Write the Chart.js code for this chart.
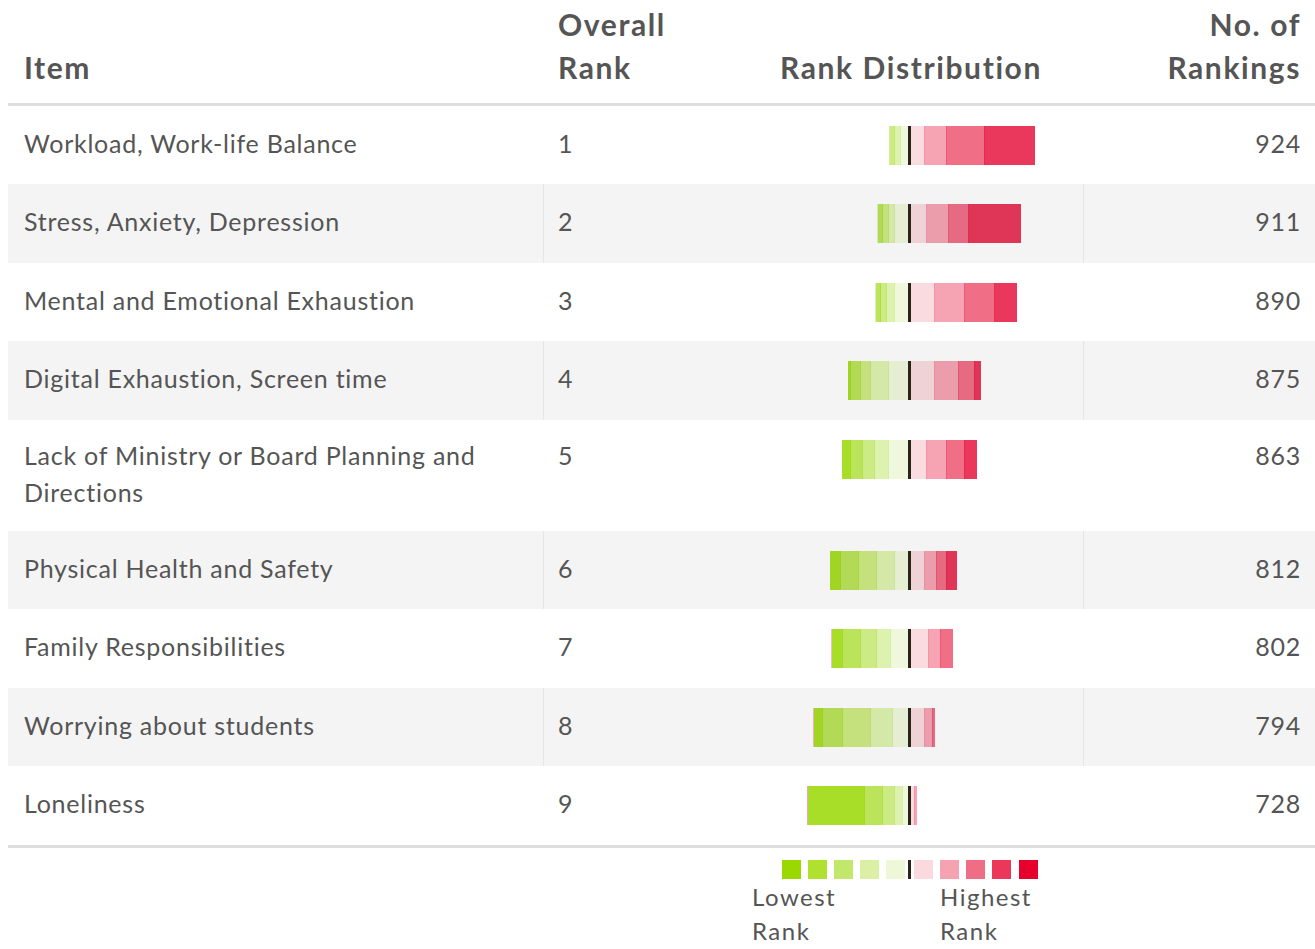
<!DOCTYPE html>
<html><head><meta charset="utf-8">
<script src="https://cdn.jsdelivr.net/npm/chart.js@4.4.1/dist/chart.umd.min.js"></script>
<style>
html,body{margin:0;padding:0;background:#fff;}
body{width:1315px;height:949px;overflow:hidden;position:relative;font-family:Lato,'Noto Sans',sans-serif;color:#555;}
.abs{position:absolute;}
.hdr{font-weight:700;font-size:30px;line-height:43px;color:#555;white-space:nowrap;letter-spacing:1.6px;}
.cell{font-size:25px;line-height:37px;color:#555;letter-spacing:0.75px;}
canvas{position:absolute;display:block;}
</style></head><body>
<script>
// ---- data ----
const items = [
  "Workload, Work-life Balance",
  "Stress, Anxiety, Depression",
  "Mental and Emotional Exhaustion",
  "Digital Exhaustion, Screen time",
  "Lack of Ministry or Board Planning and Directions",
  "Physical Health and Safety",
  "Family Responsibilities",
  "Worrying about students",
  "Loneliness"
];
const overallRank = [1, 2, 3, 4, 5, 6, 7, 8, 9];
const noOfRankings = [924, 911, 890, 875, 863, 812, 802, 794, 728];

// rank distribution bands, from lowest rank (band1, left) to highest rank (band9, right)
const band1 = [0, 0, 0, 3, 9, 10.7, 10.7, 8.7, 56.7];
const band2 = [0, 5, 5, 9.7, 11.7, 18, 18, 20, 18];
const band3 = [4.7, 5.7, 5.7, 10, 12, 18, 16, 28, 12];
const band4 = [6, 6, 8, 18, 14, 18, 14, 22, 8];
const band5 = [8.8, 14.8, 14.8, 20.8, 20.8, 14.8, 18.8, 16.8, 6.8];
const band6 = [14.5, 16.8, 24.5, 24.5, 16.5, 14.5, 18.5, 14.5, 4.5];
const band7 = [22, 22, 30, 24, 20, 12, 12, 8, 3];
const band8 = [38, 20, 30.3, 16, 18, 10, 13, 3, 0];
const band9 = [51, 52.7, 22.7, 7, 13, 11, 0, 0, 0];

const legendLow = ["Lowest", "Rank"];
const legendHigh = ["Highest", "Rank"];
const headers = {item: "Item", rank: ["Overall", "Rank"], dist: "Rank Distribution", count: ["No. of", "Rankings"]};

// ---- styles ----
const bandColors = ['#a9de28','#bbe45a','#cdeb84','#def2b0','#eff8dc','#fadbe0','#f6a4b3','#f06f87','#e9385b'];
const bandBorders = ['#9dd81a','#aedc34','#bfe262','#cfea92','#e2f2c0','#f6c3cc','#f28aa0','#ec4d6e','#e4214a'];
const legendColors = ['#99d900','#b0e030','#c1e86a','#dbf0a4','#eef8d8','#fadadf','#f5a3b1','#f06e85','#ea375a','#e8002d'];
const rowTops = [106, 184, 263, 341, 420, 531, 609, 688, 766, 845];
const CANVAS_LEFT = 700, CANVAS_W = 383, CENTER_X = 909.5, BAR_H = 39;

function el(tag, cls, style, html){
  const d = document.createElement(tag);
  if (cls) d.className = cls;
  Object.assign(d.style, style || {});
  if (html !== undefined) d.innerHTML = html;
  document.body.appendChild(d);
  return d;
}

// header
el('div','abs hdr',{left:'24px',top:'46px'},headers.item);
el('div','abs hdr',{left:'558px',top:'3px'},headers.rank.join('<br>'));
el('div','abs hdr',{left:'761px',width:'300px',textAlign:'center',top:'46px'},headers.dist);
el('div','abs hdr',{left:'1001px',width:'300px',textAlign:'right',top:'3px'},headers.count.join('<br>'));
el('div','abs',{left:'8px',top:'103px',width:'1307px',height:'3px',background:'#dedede'});
el('div','abs',{left:'8px',top:'845px',width:'1307px',height:'3px',background:'#dedede'});

const bands = [band1,band2,band3,band4,band5,band6,band7,band8,band9];
const stackOrder = [4,3,2,1,0,5,6,7,8];

const centerLine = {
  id:'centerLine',
  afterDatasetsDraw(chart){
    const c = chart.ctx, x = chart.scales.x.getPixelForValue(0), a = chart.chartArea;
    c.save(); c.fillStyle = '#2b2519'; c.fillRect(x-1.5, a.top, 3, a.bottom-a.top); c.restore();
  }
};

items.forEach((name, i) => {
  const top = rowTops[i], h = rowTops[i+1]-rowTops[i];
  const grey = i % 2 === 1;
  if (grey){
    el('div','abs',{left:'8px',top:top+'px',width:'1307px',height:h+'px',background:'#f4f4f4'});
    el('div','abs',{left:'543px',top:top+'px',width:'1px',height:h+'px',background:'#e6e6e6'});
    el('div','abs',{left:'1083px',top:top+'px',width:'1px',height:h+'px',background:'#e6e6e6'});
  }
  const ty = top + (i === 4 ? 17 : 19);
  el('div','abs cell',{left:'24px',top:ty+'px',width:'510px'},name);
  el('div','abs cell',{left:'558px',top:ty+'px'},String(overallRank[i]));
  el('div','abs cell',{left:'1101px',width:'200px',textAlign:'right',top:ty+'px'},String(noOfRankings[i]));

  const cv = el('canvas','',{left:CANVAS_LEFT+'px',top:(top+20)+'px',width:CANVAS_W+'px',height:BAR_H+'px'});
  cv.width = CANVAS_W; cv.height = BAR_H;
  if (grey) cv.style.filter = 'brightness(0.957)';
  const datasets = stackOrder.map(b => ({
    label: 'Rank band ' + (b+1),
    data: [b < 5 ? -bands[b][i] : bands[b][i]],
    backgroundColor: bandColors[b],
    borderColor: bandBorders[b],
    borderWidth: b < 5 ? {right:1,left:0,top:0,bottom:0} : {left:1,right:0,top:0,bottom:0},
    borderSkipped: false,
    stack: 's'
  }));
  new Chart(cv, {
    type:'bar',
    data:{labels:[name], datasets},
    options:{
      indexAxis:'y', responsive:false, animation:false, events:[], devicePixelRatio:1,
      layout:{padding:0},
      datasets:{bar:{categoryPercentage:1, barPercentage:1}},
      plugins:{legend:{display:false}, tooltip:{enabled:false}},
      scales:{
        x:{type:'linear', stacked:true, min:CANVAS_LEFT-CENTER_X, max:CANVAS_LEFT+CANVAS_W-CENTER_X, display:false},
        y:{stacked:true, display:false}
      }
    },
    plugins:[centerLine]
  });
});

// legend
const lx = [782,808,834,860,886,914,940,966,992,1019];
legendColors.forEach((c,k) => el('div','abs',{left:lx[k]+'px',top:'860px',width:'19px',height:'19px',background:c}));
el('div','abs',{left:'908px',top:'860px',width:'3px',height:'19px',background:'#2b2519'});
el('div','abs',{left:'752px',top:'880px',fontSize:'24px',lineHeight:'34px',color:'#555',letterSpacing:'1.5px'},legendLow.join('<br>'));
el('div','abs',{left:'940px',top:'880px',fontSize:'24px',lineHeight:'34px',color:'#555',letterSpacing:'1.5px'},legendHigh.join('<br>'));
</script>
</body></html>
